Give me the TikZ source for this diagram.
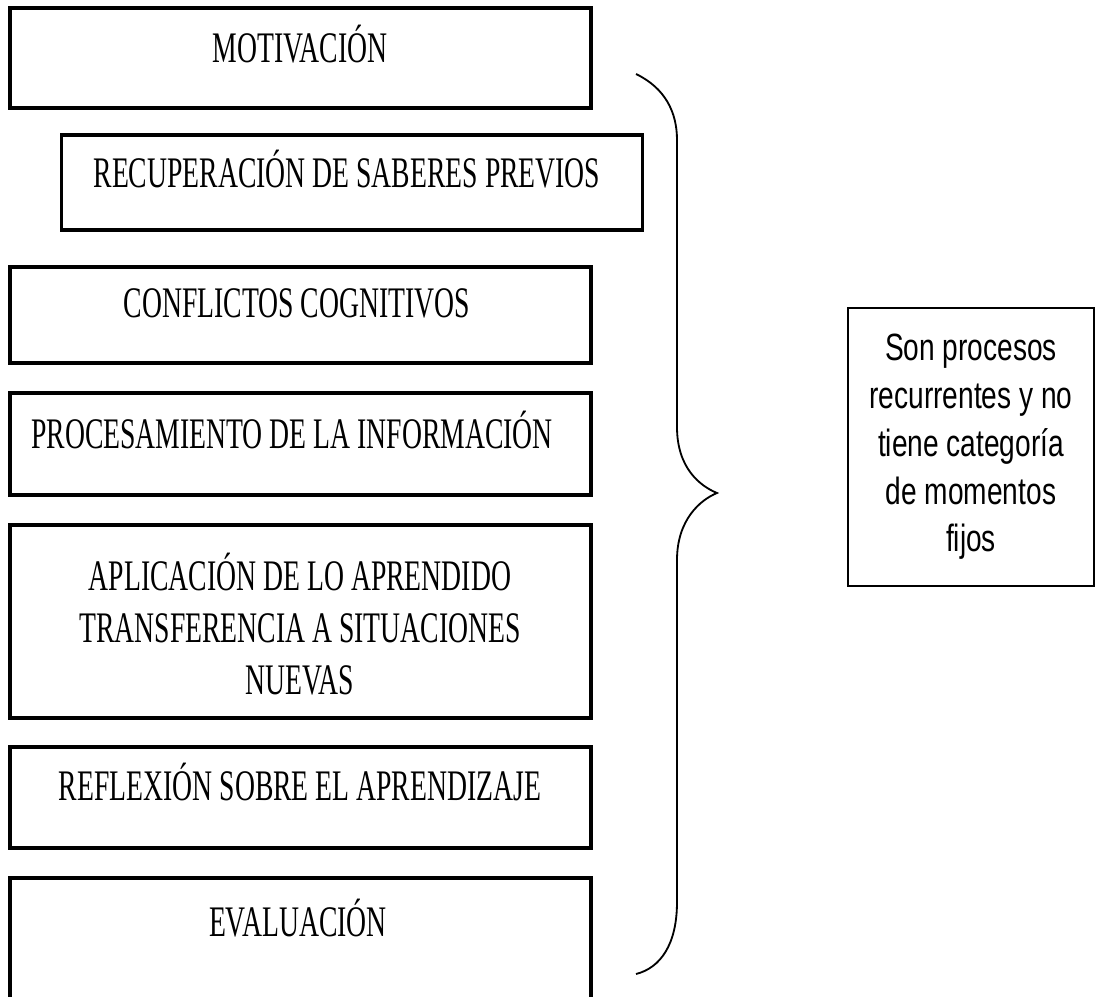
\documentclass[tikz,border=0pt]{standalone}
\usepackage{fontspec}
\setmainfont[FakeStretch=0.635]{Liberation Serif}
\newfontfamily\estrecha[FakeStretch=0.74]{Liberation Sans}
\usepackage{tikz}

\begin{document}
\begin{tikzpicture}[x=0.025cm, y=-0.025cm,
  caja/.style={rectangle, draw, line width=2.4pt, minimum width=14.525cm, inner sep=0pt},
  texto/.style={font=\fontsize{31}{37}\selectfont, align=center, inner sep=0pt},
  linea/.style={texto, anchor=base},
  nota/.style={rectangle, draw, line width=1.6pt, minimum width=6.15cm, minimum height=6.95cm,
    font=\estrecha\fontsize{27}{34}\selectfont, align=center, inner sep=0pt}]

\useasboundingbox (0,0) rectangle (1098,997);
\clip (0,0) rectangle (1098,997);

% cajas de la izquierda
\node[caja, minimum height=2.5cm] (motiv) at (300.5,58) {};
\node[caja, minimum height=2.375cm] (recup) at (352,182.5) {};
\node[caja, minimum height=2.4cm] (confl) at (300.5,315) {};
\node[caja, minimum height=2.55cm] (proces) at (300.5,444) {};
\node[caja, minimum height=4.825cm] (aplic) at (300.5,621.5) {};
\node[caja, minimum height=2.525cm] (reflex) at (300.5,797.5) {};
\node[caja, minimum height=3.3cm] (evalua) at (300.5,944) {};

% textos
\node[linea] (tmotiv) at (300,63) {MOTIVACIÓN};
\node[linea] (trecup) at (347,188) {RECUPERACIÓN DE SABERES PREVIOS};
\node[linea] (tconfl) at (297,318) {CONFLICTOS COGNITIVOS};
\node[linea] (tproces) at (292,448) {PROCESAMIENTO DE LA INFORMACIÓN};
\node[texto] (taplic) at (300,624) {APLICACIÓN DE LO APRENDIDO\\TRANSFERENCIA A SITUACIONES\\NUEVAS};
\node[linea] (treflex) at (300,800) {REFLEXIÓN SOBRE EL APRENDIZAJE};
\node[linea] (tevalua) at (298,936) {EVALUACIÓN};

% llave
\draw[line width=1.3pt] (636,74) .. controls (665,88) and (677,112) .. (677,140)
  -- (677,427) .. controls (677,468) and (700,486) .. (717,493)
  .. controls (700,500) and (677,520) .. (677,560)
  -- (677,902) .. controls (677,945) and (660,968) .. (636,974);

\node[nota] (recurr) at (971,447) {Son procesos\\recurrentes y no\\tiene categoría\\de momentos\\fijos};

\end{tikzpicture}
\end{document}
